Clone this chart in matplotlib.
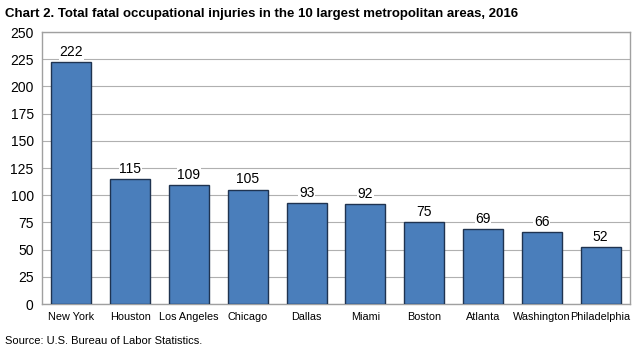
import matplotlib
matplotlib.use("Agg")
import matplotlib.pyplot as plt
from matplotlib import font_manager

fams = {f.name for f in font_manager.fontManager.ttflist}
narrow = "Liberation Sans Narrow" if "Liberation Sans Narrow" in fams else "Liberation Sans"
plt.rcParams['font.family'] = [narrow, 'DejaVu Sans']

categories = ["New York", "Houston", "Los Angeles", "Chicago", "Dallas",
              "Miami", "Boston", "Atlanta", "Washington", "Philadelphia"]
values = [222, 115, 109, 105, 93, 92, 75, 69, 66, 52]
yticks = list(range(0, 251, 25))

fig = plt.figure(figsize=(6.43, 3.52), dpi=100)
ax = fig.add_axes([42/643, 1-304/352, (630-42)/643, (304-32)/352])

x = range(len(categories))
bars = ax.bar(x, values, width=0.68, color="#4a7ebb", edgecolor="#1f3350", linewidth=1.0, zorder=3)
for xi, v in zip(x, values):
    ax.text(xi, v + 3, str(v), ha="center", va="bottom", fontsize=10,
            bbox=dict(facecolor="white", edgecolor="none", pad=0.5), zorder=4)

ax.set_xlim(-0.5, len(categories) - 0.5)
ax.set_ylim(0, 250)
ax.set_yticks(yticks)
ax.set_yticklabels([str(t) for t in yticks], fontsize=10)
ax.set_xticks(list(x))
ax.set_xticklabels(categories, fontsize=7.8)
ax.tick_params(axis="both", length=0, pad=6)
ax.tick_params(axis="y", pad=6)
ax.yaxis.grid(True, color="#b0b0b0", linewidth=0.8, zorder=0)
for s in ax.spines.values():
    s.set_color("#a0a0a0")
    s.set_linewidth(1.0)

fig.text(5/643, 1-14/352, "Chart 2. Total fatal occupational injuries in the 10 largest metropolitan areas, 2016",
         fontsize=9.5, fontweight="bold", va="center", ha="left")
fig.text(5/643, 1-341/352, "Source: U.S. Bureau of Labor Statistics.", fontsize=8, va="center", ha="left")

fig.savefig("out.png", dpi=100)
